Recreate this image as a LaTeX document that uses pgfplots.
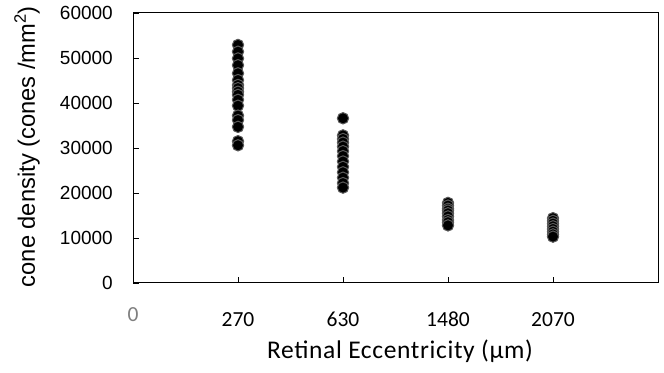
\documentclass[border=0pt]{standalone}
\usepackage{pgfplots}
\pgfplotsset{compat=1.18}
\usepackage{fontspec}
\setmainfont{Liberation Sans}
\newfontfamily\carlito{Carlito}[Numbers=Lining]
\newfontfamily\carlitols{Carlito}[Numbers=Lining, LetterSpace=2.5]
\definecolor{edgegray}{HTML}{5A5A5A}
\definecolor{zerogray}{HTML}{7F7F7F}
\begin{document}
\begin{tikzpicture}
\begin{axis}[
  scale only axis,
  width=525bp, height=270bp,
  xmin=0, xmax=5, ymin=0, ymax=60000,
  axis line style={line width=1bp, black},
  xtick={0,1,2,3,4},
  xticklabels={{\raisebox{5bp}{\color{zerogray}0}},270,630,1480,2070},
  ytick={0,10000,...,60000},
  xtick pos=bottom, ytick pos=left,
  tick align=inside,
  major tick length=6bp,
  tick style={line width=0.8bp, black},
  scaled y ticks=false,
  /pgf/number format/assume math mode=true,
  /pgf/number format/1000 sep={},
  yticklabel style={font=\fontsize{19bp}{22bp}\selectfont, inner sep=0pt, xshift=-20bp},
  xticklabel style={font=\carlito\fontsize{21.5bp}{26bp}\selectfont, inner sep=0pt, anchor=base, yshift=-44bp},
  ylabel={cone density (cones /mm\textsuperscript{2})},
  ylabel style={font=\fontsize{23.7bp}{27bp}\selectfont, at={(axis description cs:-0.1867,0.505)}, anchor=base, inner sep=0pt},
  xlabel={Retinal Eccentricity (μm)},
  xlabel style={font=\carlitols\fontsize{25.5bp}{29bp}\selectfont, at={(axis description cs:0.5086,-0.2778)}, anchor=base, inner sep=0pt},
  clip=false,
]
\addplot[only marks, mark=*, mark size=5.7pt, mark options={fill=black, draw=edgegray, line width=1bp}] table {
x y
1 52900
1 51400
1 49900
1 48400
1 46600
1 45100
1 44000
1 43300
1 42500
1 41800
1 40700
1 39400
1 37200
1 36200
1 34700
1 31500
1 30600
2 36600
2 32800
2 32000
2 31200
2 30300
2 29300
2 28200
2 27000
2 25800
2 24600
2 23400
2 22200
2 21200
3 17800
3 17200
3 16500
3 16100
3 15500
3 14800
3 14000
3 13500
3 12800
4 14400
4 13800
4 13200
4 12600
4 12000
4 11400
4 10800
4 10300
};
\end{axis}
\path ([xshift=-133bp,yshift=-90bp]current axis.south west) rectangle ([xshift=6bp,yshift=13bp]current axis.north east);
\end{tikzpicture}
\end{document}
